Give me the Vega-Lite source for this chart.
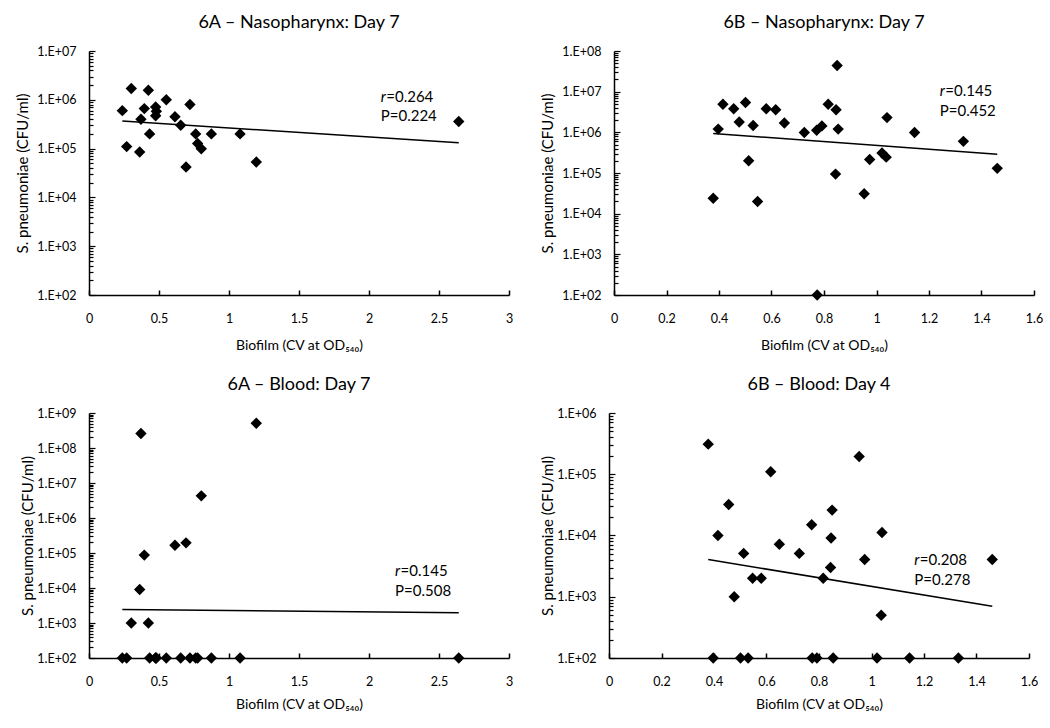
{
  "$schema": "https://vega.github.io/schema/vega-lite/v6.json",
  "background": "white",
  "padding": {"left": 15, "top": 14, "right": 5, "bottom": 5},
  "config": {
    "font": "Lato",
    "view": {"stroke": null},
    "axis": {"grid": false, "ticks": true, "domainColor": "#000", "domainWidth": 1.5, "tickColor": "#000", "tickWidth": 1.3, "labelColor": "#000", "titleColor": "#000", "labelFont": "Lato", "titleFont": "Lato", "labelFontSize": 12.5, "titleFontWeight": "normal", "labelOverlap": false, "labelBound": false, "labelFlush": false},
    "axisX": {"labelPadding": 22, "titlePadding": 14, "titleFontSize": 14},
    "axisY": {"labelPadding": 19, "titleFontSize": 15},
    "title": {"fontSize": 18, "fontWeight": "normal", "font": "Lato", "color": "#000", "offset": 13}
  },
  "datasets": {
    "np6a": [
      {"biofilm": 0.238, "cfu": 600000}, {"biofilm": 0.302, "cfu": 1700000}, {"biofilm": 0.424, "cfu": 1570000},
      {"biofilm": 0.269, "cfu": 110000}, {"biofilm": 0.362, "cfu": 85000}, {"biofilm": 0.371, "cfu": 400000},
      {"biofilm": 0.395, "cfu": 660000}, {"biofilm": 0.433, "cfu": 200000}, {"biofilm": 0.476, "cfu": 710000},
      {"biofilm": 0.481, "cfu": 580000}, {"biofilm": 0.476, "cfu": 470000}, {"biofilm": 0.552, "cfu": 1000000},
      {"biofilm": 0.614, "cfu": 450000}, {"biofilm": 0.655, "cfu": 300000}, {"biofilm": 0.721, "cfu": 800000},
      {"biofilm": 0.693, "cfu": 42000}, {"biofilm": 0.762, "cfu": 200000}, {"biofilm": 0.776, "cfu": 127000},
      {"biofilm": 0.802, "cfu": 99000}, {"biofilm": 0.874, "cfu": 200000}, {"biofilm": 1.079, "cfu": 200000},
      {"biofilm": 1.195, "cfu": 53000}, {"biofilm": 2.641, "cfu": 360000}
    ],
    "np6b": [
      {"biofilm": 0.378, "cfu": 24000}, {"biofilm": 0.397, "cfu": 1200000}, {"biofilm": 0.415, "cfu": 4900000},
      {"biofilm": 0.456, "cfu": 3800000}, {"biofilm": 0.477, "cfu": 1800000}, {"biofilm": 0.501, "cfu": 5400000},
      {"biofilm": 0.530, "cfu": 1470000}, {"biofilm": 0.513, "cfu": 200000}, {"biofilm": 0.547, "cfu": 20000},
      {"biofilm": 0.580, "cfu": 3800000}, {"biofilm": 0.616, "cfu": 3600000}, {"biofilm": 0.649, "cfu": 1700000},
      {"biofilm": 0.725, "cfu": 990000}, {"biofilm": 0.772, "cfu": 1130000}, {"biofilm": 0.792, "cfu": 1440000},
      {"biofilm": 0.774, "cfu": 100}, {"biofilm": 0.816, "cfu": 4900000}, {"biofilm": 0.850, "cfu": 44000000},
      {"biofilm": 0.846, "cfu": 3600000}, {"biofilm": 0.854, "cfu": 1200000}, {"biofilm": 0.844, "cfu": 94000},
      {"biofilm": 0.953, "cfu": 31000}, {"biofilm": 0.974, "cfu": 215000}, {"biofilm": 1.021, "cfu": 310000},
      {"biofilm": 1.037, "cfu": 245000}, {"biofilm": 1.040, "cfu": 2300000}, {"biofilm": 1.145, "cfu": 990000},
      {"biofilm": 1.331, "cfu": 600000}, {"biofilm": 1.460, "cfu": 130000}
    ],
    "bl6a": [
      {"biofilm": 0.238, "cfu": 100}, {"biofilm": 0.269, "cfu": 100}, {"biofilm": 0.302, "cfu": 1000},
      {"biofilm": 0.362, "cfu": 9100}, {"biofilm": 0.371, "cfu": 260000000}, {"biofilm": 0.395, "cfu": 87000},
      {"biofilm": 0.424, "cfu": 1000}, {"biofilm": 0.433, "cfu": 100}, {"biofilm": 0.476, "cfu": 100},
      {"biofilm": 0.481, "cfu": 100}, {"biofilm": 0.476, "cfu": 100}, {"biofilm": 0.552, "cfu": 100},
      {"biofilm": 0.614, "cfu": 167000}, {"biofilm": 0.655, "cfu": 100}, {"biofilm": 0.693, "cfu": 195000},
      {"biofilm": 0.721, "cfu": 100}, {"biofilm": 0.762, "cfu": 100}, {"biofilm": 0.776, "cfu": 100},
      {"biofilm": 0.802, "cfu": 4300000}, {"biofilm": 0.874, "cfu": 100}, {"biofilm": 1.079, "cfu": 100},
      {"biofilm": 1.195, "cfu": 510000000}, {"biofilm": 2.641, "cfu": 100}
    ],
    "bl6b": [
      {"biofilm": 0.378, "cfu": 310000}, {"biofilm": 0.397, "cfu": 100}, {"biofilm": 0.415, "cfu": 10000},
      {"biofilm": 0.456, "cfu": 32000}, {"biofilm": 0.477, "cfu": 1000}, {"biofilm": 0.501, "cfu": 100},
      {"biofilm": 0.513, "cfu": 5100}, {"biofilm": 0.530, "cfu": 100}, {"biofilm": 0.547, "cfu": 2000},
      {"biofilm": 0.580, "cfu": 2000}, {"biofilm": 0.616, "cfu": 110000}, {"biofilm": 0.649, "cfu": 7200},
      {"biofilm": 0.725, "cfu": 5100}, {"biofilm": 0.772, "cfu": 15000}, {"biofilm": 0.774, "cfu": 100},
      {"biofilm": 0.792, "cfu": 100}, {"biofilm": 0.816, "cfu": 2000}, {"biofilm": 0.844, "cfu": 3000},
      {"biofilm": 0.846, "cfu": 9100}, {"biofilm": 0.850, "cfu": 26000}, {"biofilm": 0.854, "cfu": 100},
      {"biofilm": 0.953, "cfu": 195000}, {"biofilm": 0.974, "cfu": 4050}, {"biofilm": 1.021, "cfu": 100},
      {"biofilm": 1.037, "cfu": 500}, {"biofilm": 1.040, "cfu": 11200}, {"biofilm": 1.145, "cfu": 100},
      {"biofilm": 1.331, "cfu": 100}, {"biofilm": 1.460, "cfu": 4050}
    ],
    "trend_np6a": [{"biofilm": 0.238, "cfu": 367000}, {"biofilm": 2.641, "cfu": 132000}],
    "trend_np6b": [{"biofilm": 0.378, "cfu": 935000}, {"biofilm": 1.460, "cfu": 290000}],
    "trend_bl6a": [{"biofilm": 0.238, "cfu": 2450}, {"biofilm": 2.641, "cfu": 1960}],
    "trend_bl6b": [{"biofilm": 0.378, "cfu": 4050}, {"biofilm": 1.460, "cfu": 700}],
    "ann_np6a": [{"biofilm": 2.084, "yr": 1150000, "yp": 460000, "rtxt": "=0.264", "ptxt": "P=0.224"}],
    "ann_np6b": [{"biofilm": 1.241, "yr": 10200000, "yp": 3300000, "rtxt": "=0.145", "ptxt": "P=0.452"}],
    "ann_bl6a": [{"biofilm": 2.186, "yr": 30300, "yp": 8300, "rtxt": "=0.145", "ptxt": "P=0.508"}],
    "ann_bl6b": [{"biofilm": 1.163, "yr": 3960, "yp": 1880, "rtxt": "=0.208", "ptxt": "P=0.278"}]
  },
  "columns": 2,
  "align": "none",
  "spacing": {"row": 23, "column": 27},
  "concat": [
    {
      "title": "6A – Nasopharynx: Day 7",
      "width": 420, "height": 244,
      "layer": [
        {"data": {"name": "np6a"},
         "mark": {"type": "point", "shape": "diamond", "filled": true, "color": "#000", "size": 130, "opacity": 1},
         "encoding": {
           "x": {"field": "biofilm", "type": "quantitative", "scale": {"domain": [0, 3], "nice": false, "zero": false},
                 "axis": {"values": [0, 0.5, 1, 1.5, 2, 2.5, 3], "format": "~g", "ticks": true, "tickColor": "#000", "tickWidth": 1.5, "tickSize": -5, "title": "Biofilm  (CV at OD₅₄₀)"}},
           "y": {"field": "cfu", "type": "quantitative", "scale": {"type": "log", "domain": [100, 10000000], "nice": false},
                 "axis": {"values": [100,200,300,400,500,600,700,800,900,1000,2000,3000,4000,5000,6000,7000,8000,9000,10000,20000,30000,40000,50000,60000,70000,80000,90000,100000,200000,300000,400000,500000,600000,700000,800000,900000,1000000,2000000,3000000,4000000,5000000,6000000,7000000,8000000,9000000,10000000],
                          "labelExpr": "abs(log(datum.value)/LN10 - round(log(datum.value)/LN10)) < 0.001 ? '1.E+0' + round(log(datum.value)/LN10) : ''",
                          "ticks": true, "tickColor": "#000", "tickWidth": 1.2,
                          "tickSize": {"condition": {"test": "abs(log(datum.value)/LN10 - round(log(datum.value)/LN10)) < 0.001", "value": -6}, "value": -4},
                          "titlePadding": 6,
                          "title": "S. pneumoniae (CFU/ml)"}}
         }},
        {"data": {"name": "trend_np6a"}, "mark": {"type": "line", "color": "#000", "strokeWidth": 1.5},
         "encoding": {"x": {"field": "biofilm", "type": "quantitative"}, "y": {"field": "cfu", "type": "quantitative"}}},
        {"data": {"name": "ann_np6a"}, "mark": {"type": "text", "align": "left", "baseline": "middle", "fontSize": 15, "fontStyle": "italic", "color": "#000"},
         "encoding": {"x": {"field": "biofilm", "type": "quantitative"}, "y": {"field": "yr", "type": "quantitative"}, "text": {"value": "r"}}},
        {"data": {"name": "ann_np6a"}, "mark": {"type": "text", "align": "left", "baseline": "middle", "fontSize": 15, "dx": 5.5, "color": "#000"},
         "encoding": {"x": {"field": "biofilm", "type": "quantitative"}, "y": {"field": "yr", "type": "quantitative"}, "text": {"field": "rtxt"}}},
        {"data": {"name": "ann_np6a"}, "mark": {"type": "text", "align": "left", "baseline": "middle", "fontSize": 15, "color": "#000"},
         "encoding": {"x": {"field": "biofilm", "type": "quantitative"}, "y": {"field": "yp", "type": "quantitative"}, "text": {"field": "ptxt"}}}
      ]
    },
    {
      "title": "6B – Nasopharynx: Day 7",
      "width": 420, "height": 244,
      "layer": [
        {"data": {"name": "np6b"},
         "mark": {"type": "point", "shape": "diamond", "filled": true, "color": "#000", "size": 130, "opacity": 1},
         "encoding": {
           "x": {"field": "biofilm", "type": "quantitative", "scale": {"domain": [0, 1.6], "nice": false, "zero": false},
                 "axis": {"values": [0, 0.2, 0.4, 0.6, 0.8, 1, 1.2, 1.4, 1.6], "format": "~g", "ticks": true, "tickColor": "#000", "tickWidth": 1.5, "tickSize": -5, "title": "Biofilm  (CV at OD₅₄₀)"}},
           "y": {"field": "cfu", "type": "quantitative", "scale": {"type": "log", "domain": [100, 100000000], "nice": false},
                 "axis": {"values": [100,200,300,400,500,600,700,800,900,1000,2000,3000,4000,5000,6000,7000,8000,9000,10000,20000,30000,40000,50000,60000,70000,80000,90000,100000,200000,300000,400000,500000,600000,700000,800000,900000,1000000,2000000,3000000,4000000,5000000,6000000,7000000,8000000,9000000,10000000,20000000,30000000,40000000,50000000,60000000,70000000,80000000,90000000,100000000],
                          "labelExpr": "abs(log(datum.value)/LN10 - round(log(datum.value)/LN10)) < 0.001 ? '1.E+0' + round(log(datum.value)/LN10) : ''",
                          "ticks": true, "tickColor": "#000", "tickWidth": 1.2,
                          "tickSize": {"condition": {"test": "abs(log(datum.value)/LN10 - round(log(datum.value)/LN10)) < 0.001", "value": -6}, "value": -4},
                          "titlePadding": 6,
                          "title": "S. pneumoniae (CFU/ml)"}}
         }},
        {"data": {"name": "trend_np6b"}, "mark": {"type": "line", "color": "#000", "strokeWidth": 1.5},
         "encoding": {"x": {"field": "biofilm", "type": "quantitative"}, "y": {"field": "cfu", "type": "quantitative"}}},
        {"data": {"name": "ann_np6b"}, "mark": {"type": "text", "align": "left", "baseline": "middle", "fontSize": 15, "fontStyle": "italic", "color": "#000"},
         "encoding": {"x": {"field": "biofilm", "type": "quantitative"}, "y": {"field": "yr", "type": "quantitative"}, "text": {"value": "r"}}},
        {"data": {"name": "ann_np6b"}, "mark": {"type": "text", "align": "left", "baseline": "middle", "fontSize": 15, "dx": 5.5, "color": "#000"},
         "encoding": {"x": {"field": "biofilm", "type": "quantitative"}, "y": {"field": "yr", "type": "quantitative"}, "text": {"field": "rtxt"}}},
        {"data": {"name": "ann_np6b"}, "mark": {"type": "text", "align": "left", "baseline": "middle", "fontSize": 15, "color": "#000"},
         "encoding": {"x": {"field": "biofilm", "type": "quantitative"}, "y": {"field": "yp", "type": "quantitative"}, "text": {"field": "ptxt"}}}
      ]
    },
    {
      "title": "6A – Blood: Day 7",
      "width": 420, "height": 245,
      "layer": [
        {"data": {"name": "bl6a"},
         "mark": {"type": "point", "shape": "diamond", "filled": true, "color": "#000", "size": 130, "opacity": 1},
         "encoding": {
           "x": {"field": "biofilm", "type": "quantitative", "scale": {"domain": [0, 3], "nice": false, "zero": false},
                 "axis": {"values": [0, 0.5, 1, 1.5, 2, 2.5, 3], "format": "~g", "ticks": true, "tickColor": "#000", "tickWidth": 1.5, "tickSize": -5, "titlePadding": 10, "title": "Biofilm (CV at OD₅₄₀)"}},
           "y": {"field": "cfu", "type": "quantitative", "scale": {"type": "log", "domain": [100, 1000000000], "nice": false},
                 "axis": {"values": [100,200,300,400,500,600,700,800,900,1000,2000,3000,4000,5000,6000,7000,8000,9000,10000,20000,30000,40000,50000,60000,70000,80000,90000,100000,200000,300000,400000,500000,600000,700000,800000,900000,1000000,2000000,3000000,4000000,5000000,6000000,7000000,8000000,9000000,10000000,20000000,30000000,40000000,50000000,60000000,70000000,80000000,90000000,100000000,200000000,300000000,400000000,500000000,600000000,700000000,800000000,900000000,1000000000],
                          "labelExpr": "abs(log(datum.value)/LN10 - round(log(datum.value)/LN10)) < 0.001 ? '1.E+0' + round(log(datum.value)/LN10) : ''",
                          "ticks": true, "tickColor": "#000", "tickWidth": 1.2,
                          "tickSize": {"condition": {"test": "abs(log(datum.value)/LN10 - round(log(datum.value)/LN10)) < 0.001", "value": -6}, "value": -4},
                          "titlePadding": 1,
                          "title": "S. pneumoniae (CFU/ml)"}}
         }},
        {"data": {"name": "trend_bl6a"}, "mark": {"type": "line", "color": "#000", "strokeWidth": 1.5},
         "encoding": {"x": {"field": "biofilm", "type": "quantitative"}, "y": {"field": "cfu", "type": "quantitative"}}},
        {"data": {"name": "ann_bl6a"}, "mark": {"type": "text", "align": "left", "baseline": "middle", "fontSize": 15, "fontStyle": "italic", "color": "#000"},
         "encoding": {"x": {"field": "biofilm", "type": "quantitative"}, "y": {"field": "yr", "type": "quantitative"}, "text": {"value": "r"}}},
        {"data": {"name": "ann_bl6a"}, "mark": {"type": "text", "align": "left", "baseline": "middle", "fontSize": 15, "dx": 5.5, "color": "#000"},
         "encoding": {"x": {"field": "biofilm", "type": "quantitative"}, "y": {"field": "yr", "type": "quantitative"}, "text": {"field": "rtxt"}}},
        {"data": {"name": "ann_bl6a"}, "mark": {"type": "text", "align": "left", "baseline": "middle", "fontSize": 15, "color": "#000"},
         "encoding": {"x": {"field": "biofilm", "type": "quantitative"}, "y": {"field": "yp", "type": "quantitative"}, "text": {"field": "ptxt"}}}
      ]
    },
    {
      "title": "6B – Blood: Day 4",
      "width": 420, "height": 245,
      "layer": [
        {"data": {"name": "bl6b"},
         "mark": {"type": "point", "shape": "diamond", "filled": true, "color": "#000", "size": 130, "opacity": 1},
         "encoding": {
           "x": {"field": "biofilm", "type": "quantitative", "scale": {"domain": [0, 1.6], "nice": false, "zero": false},
                 "axis": {"values": [0, 0.2, 0.4, 0.6, 0.8, 1, 1.2, 1.4, 1.6], "format": "~g", "ticks": true, "tickColor": "#000", "tickWidth": 1.5, "tickSize": -5, "titlePadding": 10, "title": "Biofilm (CV at OD₅₄₀)"}},
           "y": {"field": "cfu", "type": "quantitative", "scale": {"type": "log", "domain": [100, 1000000], "nice": false},
                 "axis": {"values": [100,200,300,400,500,600,700,800,900,1000,2000,3000,4000,5000,6000,7000,8000,9000,10000,20000,30000,40000,50000,60000,70000,80000,90000,100000,200000,300000,400000,500000,600000,700000,800000,900000,1000000],
                          "labelExpr": "abs(log(datum.value)/LN10 - round(log(datum.value)/LN10)) < 0.001 ? '1.E+0' + round(log(datum.value)/LN10) : ''",
                          "ticks": true, "tickColor": "#000", "tickWidth": 1.2,
                          "tickSize": {"condition": {"test": "abs(log(datum.value)/LN10 - round(log(datum.value)/LN10)) < 0.001", "value": -6}, "value": -4},
                          "titlePadding": 1,
                          "title": "S. pneumoniae (CFU/ml)"}}
         }},
        {"data": {"name": "trend_bl6b"}, "mark": {"type": "line", "color": "#000", "strokeWidth": 1.5},
         "encoding": {"x": {"field": "biofilm", "type": "quantitative"}, "y": {"field": "cfu", "type": "quantitative"}}},
        {"data": {"name": "ann_bl6b"}, "mark": {"type": "text", "align": "left", "baseline": "middle", "fontSize": 15, "fontStyle": "italic", "color": "#000"},
         "encoding": {"x": {"field": "biofilm", "type": "quantitative"}, "y": {"field": "yr", "type": "quantitative"}, "text": {"value": "r"}}},
        {"data": {"name": "ann_bl6b"}, "mark": {"type": "text", "align": "left", "baseline": "middle", "fontSize": 15, "dx": 5.5, "color": "#000"},
         "encoding": {"x": {"field": "biofilm", "type": "quantitative"}, "y": {"field": "yr", "type": "quantitative"}, "text": {"field": "rtxt"}}},
        {"data": {"name": "ann_bl6b"}, "mark": {"type": "text", "align": "left", "baseline": "middle", "fontSize": 15, "color": "#000"},
         "encoding": {"x": {"field": "biofilm", "type": "quantitative"}, "y": {"field": "yp", "type": "quantitative"}, "text": {"field": "ptxt"}}}
      ]
    }
  ]
}
